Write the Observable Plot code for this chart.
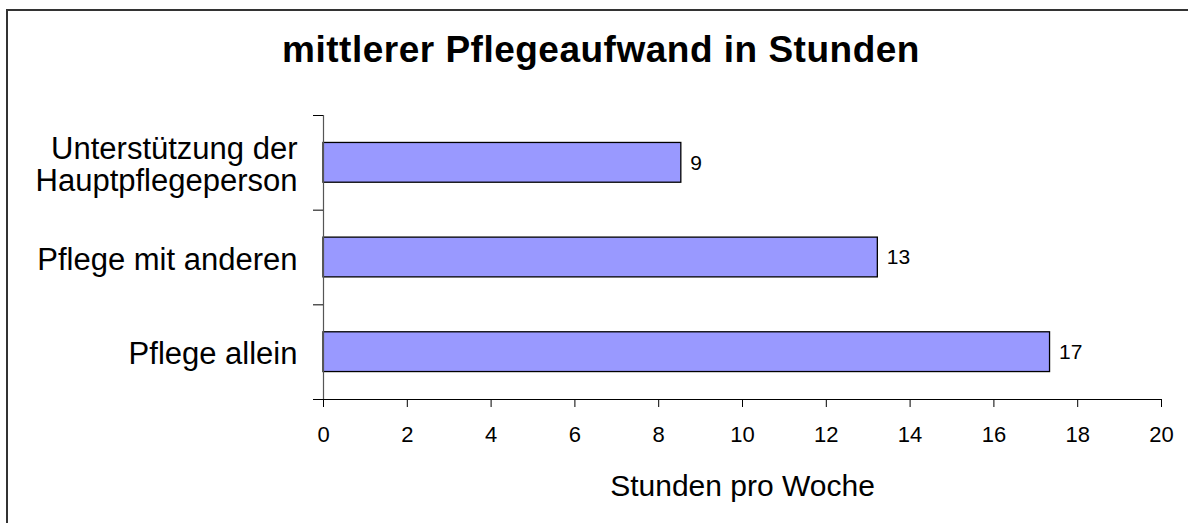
<!DOCTYPE html>
<html>
<head>
<meta charset="utf-8">
<script src="https://cdn.jsdelivr.net/npm/d3@7"></script>
<script src="https://cdn.jsdelivr.net/npm/@observablehq/plot@0.6"></script>
<style>
html, body { margin: 0; padding: 0; background: #fff; overflow: hidden; width: 1188px; height: 523px; }
#wrap { position: relative; width: 1188px; height: 523px; overflow: hidden; font-family: "Liberation Sans", Arial, sans-serif; color: #000; }
#frameL { position: absolute; left: 6px; top: 9px; width: 2px; height: 514px; background: #333; }
#frameT { position: absolute; left: 6px; top: 9px; width: 1182px; height: 2px; background: #333; }
#chart { position: absolute; left: 0; top: 0; width: 1188px; height: 523px; }
#chart svg { display: block; }
#title { position: absolute; left: 0; top: 31px; width: 1202px; text-align: center; font-weight: bold; font-size: 37px; line-height: 37px; letter-spacing: 0.5px; white-space: nowrap; }
</style>
</head>
<body>
<div id="wrap">
  <div id="frameL"></div>
  <div id="frameT"></div>
  <div id="chart"></div>
  <div id="title">mittlerer Pflegeaufwand in Stunden</div>
</div>
<script>
const categories = ["Unterstützung der\nHauptpflegeperson", "Pflege mit anderen", "Pflege allein"];
const values = [8.54, 13.23, 17.34];
const xTicks = [0, 2, 4, 6, 8, 10, 12, 14, 16, 18, 20];
const xLabel = "Stunden pro Woche";

const data = categories.map((c, i) => ({ category: c, index: i, value: values[i] }));
const fmt = d3.format(".0f");

const chart = Plot.plot({
  width: 1188,
  height: 523,
  marginTop: 115,
  marginBottom: 124,
  marginLeft: 323,
  marginRight: 27,
  style: { fontFamily: '"Liberation Sans", Arial, sans-serif', background: "transparent", color: "#000" },
  x: { domain: [0, 20] },
  y: { domain: [0, categories.length], reverse: true },
  marks: [
    Plot.rect(data, {
      x1: 0, x2: "value",
      y1: d => d.index + 0.29, y2: d => d.index + 0.71,
      fill: "#9999ff", stroke: "#000", strokeWidth: 1.3
    }),
    Plot.ruleX([0], { stroke: "#555", strokeWidth: 1.2 }),
    Plot.ruleY([categories.length], { stroke: "#000", strokeWidth: 1.2 }),
    Plot.axisX({
      ticks: xTicks, tickSize: 8, tickPadding: 19, fontSize: 22, label: null
    }),
    Plot.axisY({
      ticks: d3.range(categories.length + 1), tickSize: 10, tickFormat: () => "", label: null
    }),
    Plot.text([xLabel], {
      frameAnchor: "bottom", lineAnchor: "bottom", dy: 96, text: d => d, fontSize: 30, fill: "#000"
    }),
    Plot.text(data, {
      x: 0, y: d => d.index + 0.5, text: "category",
      textAnchor: "end", dx: -26, dy: 2, fontSize: 31, lineHeight: 1.03, fill: "#000"
    }),
    Plot.text(data, {
      x: "value", y: d => d.index + 0.5, text: d => fmt(d.value),
      textAnchor: "start", dx: 9, fontSize: 21, fill: "#000"
    })
  ]
});
document.getElementById("chart").appendChild(chart);
</script>
</body>
</html>
